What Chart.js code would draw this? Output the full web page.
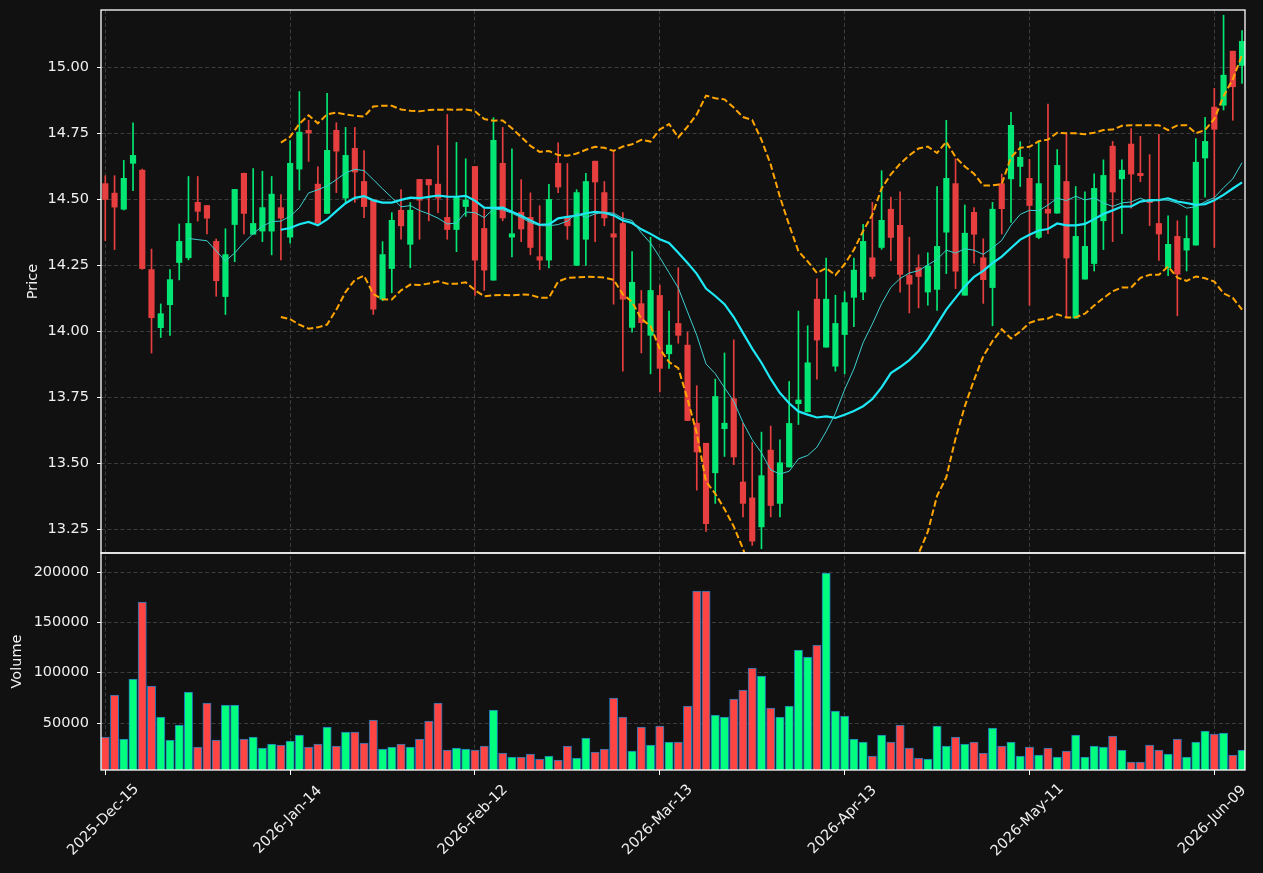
<!DOCTYPE html>
<html>
<head>
<meta charset="utf-8">
<script src="https://cdn.jsdelivr.net/npm/chart.js@4.4.1/dist/chart.umd.min.js"></script>
<style>
  html, body { margin: 0; padding: 0; background: #111111; }
</style>
</head>
<body>
<canvas id="chart" width="1263" height="873"></canvas>
<script>
// daily OHLC (one entry per trading day)
const opens = [14.56, 14.524, 14.463, 14.637, 14.611, 14.234, 14.014, 14.101, 14.261, 14.279,
  14.489, 14.477, 14.341, 14.132, 14.405, 14.599, 14.368, 14.38, 14.38, 14.469,
  14.357, 14.615, 14.762, 14.558, 14.447, 14.762, 14.505, 14.694, 14.568, 14.498,
  14.122, 14.238, 14.459, 14.33, 14.576, 14.576, 14.558, 14.432, 14.386, 14.473,
  14.625, 14.39, 14.194, 14.637, 14.357, 14.451, 14.432, 14.283, 14.27, 14.637,
  14.432, 14.25, 14.349, 14.645, 14.526, 14.37, 14.409, 14.015, 14.105, 13.985,
  14.136, 13.915, 14.03, 13.948, 13.652, 13.576, 13.464, 13.631, 13.745, 13.429,
  13.369, 13.259, 13.55, 13.348, 13.486, 13.726, 13.695, 14.122, 13.94, 13.868,
  13.988, 14.129, 14.149, 14.279, 14.318, 14.463, 14.402, 14.212, 14.241, 14.149,
  14.159, 14.376, 14.56, 14.137, 14.451, 14.279, 14.166, 14.56, 14.578, 14.625,
  14.58, 14.356, 14.463, 14.448, 14.568, 14.05, 14.198, 14.257, 14.419, 14.702,
  14.578, 14.71, 14.599, 14.493, 14.409, 14.241, 14.36, 14.308, 14.327, 14.657,
  14.85, 14.857, 15.062, 15.008]
const highs = [14.59, 14.59, 14.648, 14.79, 14.615, 14.312, 14.104, 14.234, 14.407, 14.587,
  14.587, 14.477, 14.35, 14.389, 14.538, 14.60, 14.617, 14.607, 14.587, 14.518,
  14.723, 14.909, 14.80, 14.624, 14.902, 14.791, 14.773, 14.773, 14.685, 14.50,
  14.34, 14.45, 14.537, 14.488, 14.576, 14.576, 14.704, 14.822, 14.716, 14.654,
  14.625, 14.465, 14.81, 14.773, 14.692, 14.575, 14.525, 14.476, 14.557, 14.715,
  14.636, 14.537, 14.599, 14.645, 14.568, 14.678, 14.45, 14.302, 14.155, 14.357,
  14.175, 14.077, 14.241, 13.997, 13.794, 13.576, 13.819, 13.918, 13.968, 13.651,
  13.579, 13.618, 13.641, 13.589, 13.81, 14.077, 14.021, 14.199, 14.278, 14.137,
  14.15, 14.278, 14.406, 14.489, 14.609, 14.509, 14.529, 14.357, 14.29, 14.298,
  14.549, 14.80, 14.654, 14.479, 14.469, 14.351, 14.489, 14.596, 14.83, 14.719,
  14.652, 14.718, 14.861, 14.689, 14.747, 14.549, 14.529, 14.597, 14.65, 14.72,
  14.65, 14.769, 14.739, 14.67, 14.747, 14.438, 14.419, 14.438, 14.731, 14.811,
  14.921, 15.198, 15.062, 15.14]
const lows = [14.344, 14.31, 14.46, 14.533, 14.235, 13.918, 13.977, 13.985, 14.195, 14.271,
  14.418, 14.369, 14.133, 14.064, 14.264, 14.369, 14.368, 14.34, 14.29, 14.271,
  14.334, 14.535, 14.644, 14.41, 14.447, 14.526, 14.489, 14.489, 14.431, 14.064,
  14.116, 14.146, 14.349, 14.241, 14.349, 14.419, 14.45, 14.349, 14.302, 14.436,
  14.136, 14.155, 14.194, 14.419, 14.282, 14.34, 14.29, 14.234, 14.24, 14.526,
  14.349, 14.25, 14.25, 14.34, 14.40, 14.103, 13.849, 13.997, 13.918, 13.839,
  13.77, 13.86, 13.955, 13.662, 13.398, 13.242, 13.348, 13.526, 13.495, 13.297,
  13.189, 13.176, 13.297, 13.297, 13.486, 13.647, 13.695, 13.819, 13.94, 13.849,
  13.839, 14.018, 14.12, 14.199, 14.311, 14.268, 14.149, 14.07, 14.089, 14.099,
  14.079, 14.219, 14.162, 14.137, 14.258, 14.106, 14.021, 14.369, 14.413, 14.549,
  14.099, 14.351, 14.37, 14.448, 14.051, 14.05, 14.198, 14.229, 14.31, 14.34,
  14.37, 14.467, 14.567, 14.401, 14.269, 14.211, 14.059, 14.229, 14.327, 14.509,
  14.318, 14.839, 14.80, 14.94]
const closes = [14.50, 14.471, 14.58, 14.667, 14.238, 14.052, 14.067, 14.196, 14.341, 14.409,
  14.455, 14.429, 14.192, 14.291, 14.538, 14.447, 14.409, 14.469, 14.52, 14.429,
  14.637, 14.755, 14.752, 14.41, 14.686, 14.683, 14.667, 14.604, 14.473, 14.084,
  14.291, 14.421, 14.40, 14.459, 14.497, 14.555, 14.505, 14.386, 14.509, 14.498,
  14.27, 14.232, 14.724, 14.43, 14.37, 14.388, 14.318, 14.27, 14.50, 14.547,
  14.40, 14.526, 14.568, 14.566, 14.43, 14.357, 14.122, 14.186, 14.033, 14.155,
  13.86, 13.948, 13.985, 13.662, 13.543, 13.271, 13.753, 13.652, 13.524, 13.348,
  13.205, 13.453, 13.34, 13.502, 13.651, 13.74, 13.881, 13.967, 14.122, 14.03,
  14.109, 14.232, 14.341, 14.208, 14.421, 14.356, 14.216, 14.179, 14.208, 14.248,
  14.322, 14.58, 14.228, 14.372, 14.368, 14.196, 14.463, 14.465, 14.781, 14.66,
  14.477, 14.56, 14.448, 14.629, 14.278, 14.36, 14.322, 14.542, 14.591, 14.528,
  14.611, 14.596, 14.59, 14.488, 14.369, 14.33, 14.217, 14.352, 14.641, 14.72,
  14.766, 14.971, 14.927, 15.099]
const volumes = [36000, 77700, 34000, 93600, 170200, 86700, 55900, 33000, 47900, 80700,
  26100, 69800, 33000, 67800, 67800, 34000, 36000, 25100, 29000, 28000,
  32000, 38000, 26100, 29000, 45900, 27100, 41000, 41000, 30000, 52900,
  24100, 26100, 29000, 26100, 34000, 51900, 69800, 23100, 25100, 24100,
  23100, 27100, 62800, 20100, 16100, 16100, 19100, 14100, 17100, 13200,
  27100, 15100, 35000, 21100, 24100, 74800, 55900, 22100, 45900, 28000,
  46900, 31000, 31000, 66800, 181100, 181100, 57900, 55900, 73800, 82700,
  104600, 96600, 64800, 55900, 66800, 122500, 115500, 127400, 199000, 61800,
  56900, 34000, 31000, 17100, 38000, 31000, 47900, 25100, 15100, 14100,
  46900, 27100, 36000, 29000, 31000, 20100, 45000, 27100, 31000, 17100,
  26100, 18100, 25100, 16100, 22100, 38000, 16100, 27100, 26100, 37000,
  23100, 11200, 11200, 28000, 23100, 19100, 34000, 16100, 31000, 42000,
  39000, 40000, 18100, 23100]

// x axis: every 20th trading day is labelled
const tickIndex = [0, 20, 40, 60, 80, 100, 120]
const tickLabels = ['2025-Dec-15', '2026-Jan-14', '2026-Feb-12', '2026-Mar-13', '2026-Apr-13', '2026-May-11', '2026-Jun-09']
const priceTicks = [13.25, 13.5, 13.75, 14.0, 14.25, 14.5, 14.75, 15.0]
const volumeTicks = [50000, 100000, 150000, 200000]

const BG = '#111111'
const FG = '#f0f0f0'
const GRID = '#3c3c3c'
const UP = '#02e774', DOWN = '#e73f3f'
const VOL_UP = '#00ff7f', VOL_DOWN = '#ff4444', VOL_EDGE = '#1f77b4'
const PRICE_H = 543, VOLUME_H = 217
const FONT = { family: 'DejaVu Sans', size: 14.5 }

// indicators derived from the closes (10/20 day means, 20 day bands)
function rollingMean(values, n) {
  return values.map((_, i) => {
    if (i < n - 1) return null
    const w = values.slice(i - n + 1, i + 1)
    return w.reduce((a, b) => a + b, 0) / n
  })
}
function rollingStd(values, n) {
  return values.map((_, i) => {
    if (i < n - 1) return null
    const w = values.slice(i - n + 1, i + 1)
    const m = w.reduce((a, b) => a + b, 0) / n
    return Math.sqrt(w.reduce((a, b) => a + (b - m) ** 2, 0) / (n - 1))
  })
}
const ma10 = rollingMean(closes, 10)
const ma20 = rollingMean(closes, 20)
const sd20 = rollingStd(closes, 20)
const upperBand = ma20.map((m, i) => m === null ? null : m + 2 * sd20[i])
const lowerBand = ma20.map((m, i) => m === null ? null : m - 2 * sd20[i])

const idx = closes.map((_, i) => i)
const isUp = idx.map(i => closes[i] >= opens[i])
const pts = arr => idx.map(i => ({ x: i, y: arr[i] }))

const lineSet = (data, color, width, dash) => ({
  type: 'line', yAxisID: 'y', data: pts(data), borderColor: color, borderWidth: width,
  borderDash: dash || [], pointRadius: 0, tension: 0, spanGaps: false, order: 0
})

const frames = {
  id: 'frames',
  afterDraw(chart) {
    const { ctx, chartArea, scales } = chart
    ctx.save()
    ctx.strokeStyle = '#ffffff'
    ctx.lineWidth = 1.3
    for (const id of ['y', 'yv']) {
      const s = scales[id]
      ctx.strokeRect(chartArea.left, s.top, chartArea.right - chartArea.left, s.bottom - s.top)
    }
    ctx.fillStyle = FG
    ctx.font = FONT.size + 'px "DejaVu Sans"'
    ctx.textAlign = 'center'
    ctx.textBaseline = 'middle'
    const rotated = (text, x, y, a) => {
      ctx.save(); ctx.translate(x, y); ctx.rotate(a); ctx.fillText(text, 0, 0); ctx.restore()
    }
    rotated('Price', 33, (scales.y.top + scales.y.bottom) / 2, -Math.PI / 2)
    rotated('Volume', 17, (scales.yv.top + scales.yv.bottom) / 2, -Math.PI / 2)
    tickIndex.forEach((v, k) => rotated(tickLabels[k], scales.x.getPixelForValue(v) - 2, 820, -Math.PI / 4))
    ctx.restore()
  }
}

const background = {
  id: 'background',
  beforeDraw(chart) {
    const { ctx, width, height } = chart
    ctx.save(); ctx.fillStyle = BG; ctx.fillRect(0, 0, width, height); ctx.restore()
  }
}

const volMin = Math.min(...volumes) * 0.3
const volMax = Math.max(...volumes) * 1.1

const fitY = s => { s.width = 101; s.paddingTop = 0; s.paddingBottom = 0 }

new Chart(document.getElementById('chart').getContext('2d'), {
  data: {
    datasets: [
      lineSet(ma10, '#3dcfcf', 1),
      lineSet(ma20, '#1de9f6', 2.2),
      lineSet(upperBand, '#ffa500', 2, [6.5, 3]),
      lineSet(lowerBand, '#ffa500', 2, [6.5, 3]),
      {
        type: 'bar', yAxisID: 'y', grouped: false, order: 1,
        data: idx.map(i => ({ x: i, y: [opens[i], closes[i]] })),
        backgroundColor: isUp.map(u => u ? UP : DOWN), barThickness: 5.5, minBarLength: 1.5
      },
      {
        type: 'bar', yAxisID: 'y', grouped: false, order: 2,
        data: idx.map(i => ({ x: i, y: [lows[i], highs[i]] })),
        backgroundColor: isUp.map(u => u ? UP : DOWN), barThickness: 1
      },
      {
        type: 'bar', yAxisID: 'yv', grouped: false, order: 3,
        data: pts(volumes),
        backgroundColor: isUp.map(u => u ? VOL_UP : VOL_DOWN),
        borderColor: VOL_EDGE, borderWidth: 1, barThickness: 8.3
      }
    ]
  },
  options: {
    responsive: false,
    devicePixelRatio: 1,
    animation: false,
    layout: { padding: { top: 10, right: 18, bottom: 0, left: 0 } },
    plugins: { legend: { display: false }, tooltip: { enabled: false } },
    scales: {
      x: {
        type: 'linear', min: -0.465, max: 123.32, offset: false,
        afterBuildTicks: s => { s.ticks = tickIndex.map(v => ({ value: v })) },
        afterFit: s => { s.height = 103; s.paddingLeft = 0; s.paddingRight = 0 },
        ticks: { display: false },
        grid: { offset: false, color: GRID, lineWidth: 1, tickColor: '#ffffff', tickLength: 5, tickWidth: 1 },
        border: { display: false, dash: [4, 2.5] }
      },
      y: {
        type: 'linear', position: 'left', stack: 'panels', stackWeight: PRICE_H, weight: 1,
        min: 13.16, max: 15.218,
        afterBuildTicks: s => { s.ticks = priceTicks.map(v => ({ value: v })) },
        afterFit: fitY,
        ticks: { color: FG, font: FONT, padding: 8, callback: v => v.toFixed(2) },
        grid: { color: GRID, lineWidth: 1, tickColor: '#ffffff', tickLength: 4, tickWidth: 1 },
        border: { display: false, dash: [4, 2.5] }
      },
      yv: {
        type: 'linear', position: 'left', stack: 'panels', stackWeight: VOLUME_H, weight: 0,
        min: volMin, max: volMax,
        afterBuildTicks: s => { s.ticks = volumeTicks.map(v => ({ value: v })) },
        afterFit: fitY,
        ticks: { color: FG, font: FONT, padding: 8, callback: v => String(v) },
        grid: { color: GRID, lineWidth: 1, tickColor: '#ffffff', tickLength: 4, tickWidth: 1 },
        border: { display: false, dash: [4, 2.5] }
      }
    }
  },
  plugins: [background, frames]
})
</script>
</body>
</html>
